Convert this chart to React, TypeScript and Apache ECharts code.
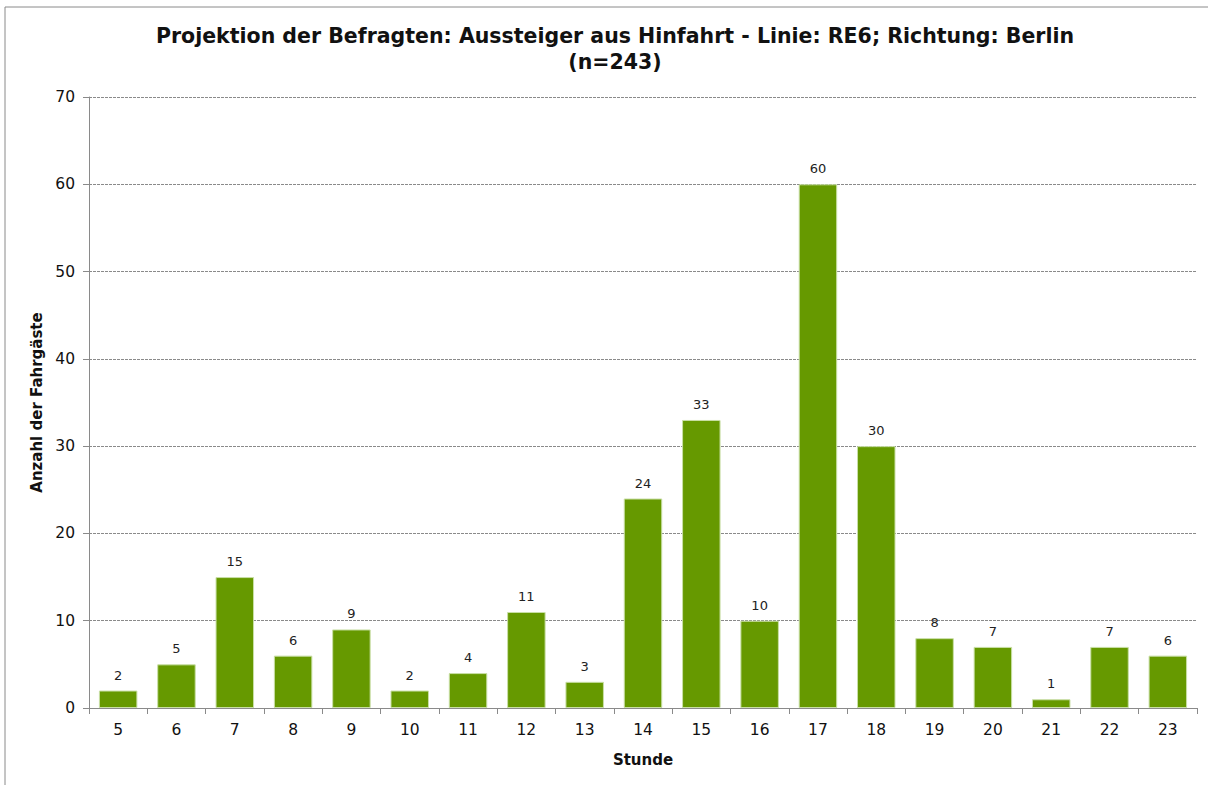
import React, { useEffect, useRef } from "react";
import * as echarts from "echarts";

const categories = ["5","6","7","8","9","10","11","12","13","14","15","16","17","18","19","20","21","22","23"];
const values = [2,5,15,6,9,2,4,11,3,24,33,10,60,30,8,7,1,7,6];
const titleText = "Projektion der Befragten: Aussteiger aus Hinfahrt - Linie: RE6; Richtung: Berlin\n(n=243)";

const FONT = "DejaVu Sans";

export default function App() {
  const ref = useRef<HTMLDivElement>(null);
  useEffect(() => {
    const chart = echarts.init(ref.current!, null, { renderer: "svg" });
    chart.setOption({
      animation: false,
      backgroundColor: "#ffffff",
      textStyle: { fontFamily: FONT },
      title: {
        text: titleText,
        left: 610,
        top: 18,
        textAlign: "center",
        textStyle: { fontFamily: FONT, fontSize: 20.5, fontWeight: "bold", color: "#111", lineHeight: 26 },
      },
      graphic: [
        {
          type: "rect",
          shape: { x: 5, y: 7, width: 1300, height: 900 },
          style: { fill: "none", stroke: "#8a8a8a", lineWidth: 1 },
          silent: true,
        },
      ],
      grid: { left: 89, right: 11, top: 97, bottom: 77 },
      xAxis: {
        type: "category",
        data: categories,
        name: "Stunde",
        nameLocation: "middle",
        nameGap: 44,
        nameTextStyle: { fontFamily: FONT, fontSize: 15, fontWeight: "bold", color: "#111" },
        axisLine: { lineStyle: { color: "#8a8a8a", width: 1 } },
        axisTick: { show: true, alignWithLabel: false, length: 6, lineStyle: { color: "#8a8a8a" } },
        axisLabel: { fontFamily: FONT, fontSize: 15.5, color: "#111", margin: 14 },
      },
      yAxis: {
        type: "value",
        min: 0,
        max: 70,
        interval: 10,
        name: "Anzahl der Fahrgäste",
        nameLocation: "middle",
        nameGap: 44,
        nameRotate: 90,
        nameTextStyle: { fontFamily: FONT, fontSize: 15, fontWeight: "bold", color: "#111" },
        axisLine: { show: true, lineStyle: { color: "#8a8a8a", width: 1 } },
        axisTick: { show: true, length: 6, lineStyle: { color: "#8a8a8a" } },
        axisLabel: { fontFamily: FONT, fontSize: 15.5, color: "#111", margin: 14 },
        splitLine: { show: true, lineStyle: { color: "#8a8a8a", type: [3, 1], width: 1 } },
      },
      series: [
        {
          type: "bar",
          data: values,
          barWidth: "66%",
          itemStyle: { color: "#669900", borderColor: "#c9dfa6", borderWidth: 1 },
          label: {
            show: true,
            position: "top",
            distance: 9,
            fontFamily: FONT,
            fontSize: 13,
            color: "#222",
          },
        },
      ],
    });
    return () => chart.dispose();
  }, []);
  return (
    <div
      ref={ref}
      style={{ position: "fixed", left: 0, top: 0, width: 1208, height: 785 }}
    />
  );
}
